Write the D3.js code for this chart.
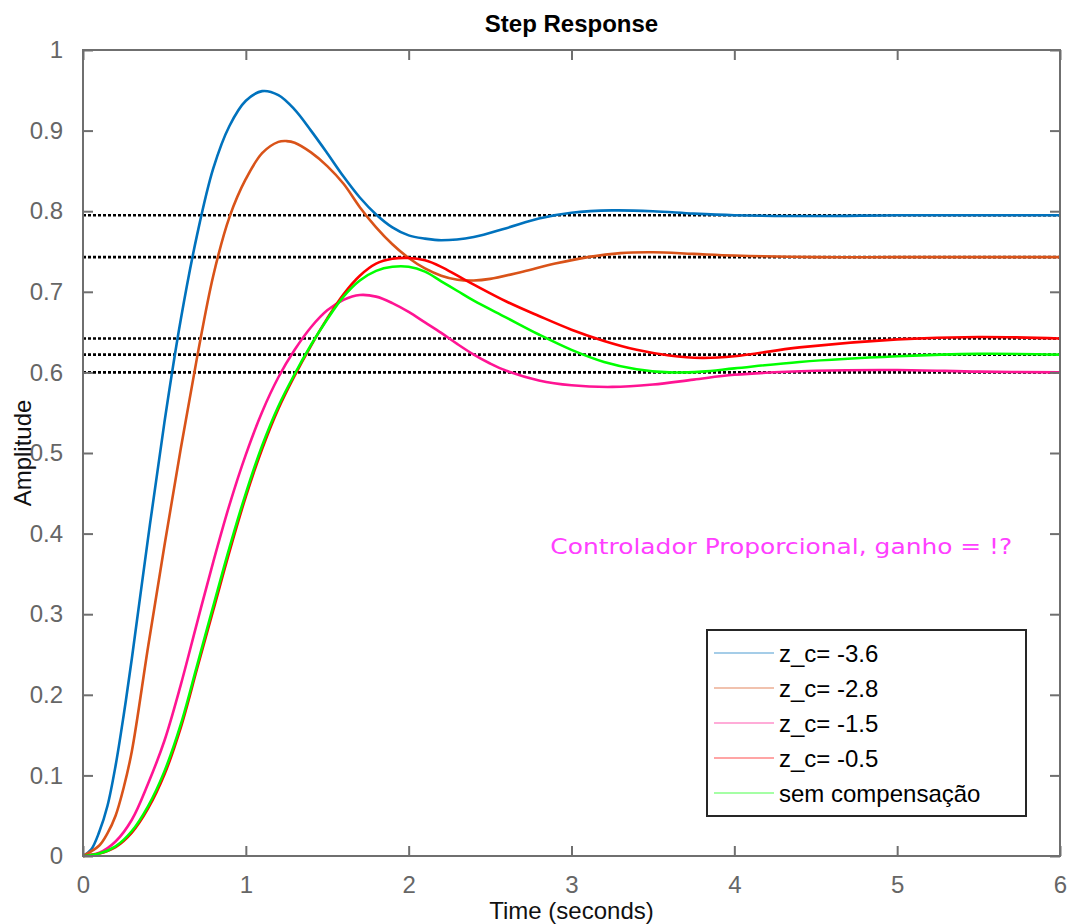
<!DOCTYPE html>
<html>
<head>
<meta charset="utf-8">
<script src="https://cdn.jsdelivr.net/npm/d3@7"></script>
<style>
  body { margin: 0; background: #fff; }
  svg { font-family: "Liberation Sans", Arial, sans-serif; }
</style>
</head>
<body>
<div id="plot"></div>
<script>
// values
const tBlue   = [0, 0.05, 0.1, 0.15, 0.2, 0.25, 0.3, 0.4, 0.5, 0.6, 0.7, 0.8, 0.9, 1.0, 1.1, 1.2, 1.3, 1.4, 1.5, 1.6, 1.7, 1.8, 1.9, 2.0, 2.1, 2.2, 2.4, 2.6, 2.8, 3.0, 3.25, 3.5, 3.75, 4, 4.5, 5, 5.5, 6];
const zc36    = [0, 0.008, 0.03, 0.062, 0.112, 0.175, 0.245, 0.395, 0.538, 0.665, 0.77, 0.853, 0.906, 0.937, 0.949, 0.944, 0.926, 0.90, 0.872, 0.843, 0.817, 0.796, 0.78, 0.77, 0.766, 0.764, 0.768, 0.779, 0.791, 0.798, 0.801, 0.800, 0.797, 0.795, 0.794, 0.795, 0.795, 0.795];

const tOrange = [0, 0.1, 0.15, 0.2, 0.25, 0.3, 0.4, 0.5, 0.6, 0.7, 0.8, 0.9, 1.0, 1.1, 1.2, 1.25, 1.3, 1.4, 1.5, 1.6, 1.7, 1.8, 1.9, 2.0, 2.1, 2.2, 2.3, 2.4, 2.5, 2.7, 2.9, 3.1, 3.3, 3.5, 3.75, 4, 4.5, 5, 6];
const zc28    = [0, 0.013, 0.028, 0.05, 0.085, 0.13, 0.26, 0.385, 0.505, 0.618, 0.72, 0.793, 0.84, 0.872, 0.886, 0.887, 0.885, 0.873, 0.856, 0.834, 0.805, 0.78, 0.759, 0.742, 0.729, 0.72, 0.715, 0.714, 0.716, 0.725, 0.735, 0.743, 0.748, 0.749, 0.747, 0.745, 0.743, 0.743, 0.743];

const tMag    = [0, 0.1, 0.2, 0.3, 0.4, 0.5, 0.6, 0.7, 0.8, 0.9, 1.0, 1.1, 1.2, 1.3, 1.4, 1.5, 1.6, 1.7, 1.8, 1.9, 2.0, 2.1, 2.2, 2.3, 2.4, 2.5, 2.6, 2.8, 3.0, 3.25, 3.5, 3.75, 4.0, 4.5, 5.0, 5.5, 6.0];
const zc15    = [0, 0.004, 0.018, 0.045, 0.09, 0.143, 0.212, 0.289, 0.365, 0.436, 0.498, 0.551, 0.594, 0.628, 0.656, 0.677, 0.69, 0.696, 0.694, 0.686, 0.675, 0.662, 0.649, 0.635, 0.622, 0.611, 0.602, 0.59, 0.584, 0.582, 0.585, 0.591, 0.597, 0.602, 0.603, 0.601, 0.600];

const tLow    = [0, 0.1, 0.2, 0.3, 0.4, 0.5, 0.6, 0.7, 0.8, 0.9, 1.0, 1.1, 1.2, 1.3, 1.4, 1.5, 1.6, 1.7, 1.8, 1.9, 2.0, 2.1, 2.2, 2.3, 2.4, 2.6, 2.8, 3.0, 3.2, 3.4, 3.6, 3.8, 4.0, 4.4, 5.0, 5.5, 6.0];
const zc05    = [0, 0.003, 0.011, 0.029, 0.059, 0.101, 0.159, 0.232, 0.305, 0.378, 0.446, 0.505, 0.555, 0.596, 0.633, 0.667, 0.697, 0.72, 0.735, 0.741, 0.742, 0.739, 0.731, 0.72, 0.709, 0.688, 0.67, 0.653, 0.639, 0.628, 0.621, 0.618, 0.62, 0.631, 0.641, 0.644, 0.642];
const semComp = [0, 0.003, 0.012, 0.031, 0.062, 0.105, 0.163, 0.236, 0.31, 0.383, 0.45, 0.509, 0.558, 0.598, 0.634, 0.666, 0.694, 0.714, 0.726, 0.731, 0.731, 0.725, 0.713, 0.701, 0.689, 0.668, 0.647, 0.628, 0.613, 0.604, 0.600, 0.601, 0.605, 0.613, 0.620, 0.623, 0.622];

const finalValues = [0.795, 0.743, 0.642, 0.622, 0.600];

const seriesNames = ["z_c= -3.6", "z_c= -2.8", "z_c= -1.5", "z_c= -0.5", "sem compensação"];
const seriesColors = ["#0072BD", "#D95319", "#FF1493", "#FF0000", "#00FF00"];
const series = [
  { t: tBlue, y: zc36 },
  { t: tOrange, y: zc28 },
  { t: tMag, y: zc15 },
  { t: tLow, y: zc05 },
  { t: tLow, y: semComp }
];

const xTicks = [0, 1, 2, 3, 4, 5, 6];
const yTicks = [0, 0.1, 0.2, 0.3, 0.4, 0.5, 0.6, 0.7, 0.8, 0.9, 1];

const W = 1074, H = 924;
const margin = { top: 50, right: 14, bottom: 68, left: 83 };
const width = W - margin.left - margin.right;
const height = H - margin.top - margin.bottom;

const svg = d3.select('#plot')
  .append('svg')
  .attr('width', W)
  .attr('height', H);

const g = svg.append('g')
  .attr('transform', `translate(${margin.left},${margin.top})`);

const x = d3.scaleLinear().domain([0, 6]).range([0, width]);
const y = d3.scaleLinear().domain([0, 1]).range([height, 0]);

const axisColor = '#6f6f6f';

// dotted steady-state lines
g.selectAll('.ss')
  .data(finalValues)
  .enter()
  .append('line')
  .attr('x1', 0)
  .attr('x2', width)
  .attr('y1', (d) => y(d))
  .attr('y2', (d) => y(d))
  .attr('stroke', '#000')
  .attr('stroke-width', 2.6)
  .attr('stroke-dasharray', '3,2');

// curves
const line = d3.line().curve(d3.curveCatmullRom.alpha(0.5));
g.selectAll('.curve')
  .data(series)
  .enter()
  .append('path')
  .attr('fill', 'none')
  .attr('stroke', (d, i) => seriesColors[i])
  .attr('stroke-width', 2.6)
  .attr('d', (d) => line(d.t.map((t, i) => [x(t), y(d.y[i])])));

// axes: ticks inside on all four sides
function styleAxis(sel) {
  sel.select('.domain').remove();
  sel.selectAll('.tick line').attr('stroke', axisColor).attr('stroke-width', 2);
  sel.selectAll('.tick text')
    .attr('fill', '#666')
    .style('font-size', '24px')
    .style('font-family', '"Liberation Sans", Arial, sans-serif');
}

g.append('g')
  .attr('transform', `translate(0,${height})`)
  .call(d3.axisBottom(x).tickValues(xTicks).tickFormat(d3.format('d')).tickSizeInner(-10).tickPadding(20))
  .call(styleAxis);

g.append('g')
  .call(d3.axisLeft(y).tickValues(yTicks).tickFormat((d) => d3.format('')(+d.toFixed(1))).tickSizeInner(-10).tickPadding(20))
  .call(styleAxis);

g.append('g')
  .call(d3.axisTop(x).tickValues(xTicks).tickFormat('').tickSizeInner(-10))
  .call(styleAxis);

g.append('g')
  .attr('transform', `translate(${width},0)`)
  .call(d3.axisRight(y).tickValues(yTicks).tickFormat('').tickSizeInner(-10))
  .call(styleAxis);

// box
g.append('rect')
  .attr('width', width)
  .attr('height', height)
  .attr('fill', 'none')
  .attr('stroke', axisColor)
  .attr('stroke-width', 2);

// title and axis labels
svg.append('text')
  .attr('x', margin.left + width / 2)
  .attr('y', 32)
  .attr('text-anchor', 'middle')
  .style('font-size', '24px')
  .style('font-weight', 'bold')
  .text('Step Response');

svg.append('text')
  .attr('x', margin.left + width / 2)
  .attr('y', 919)
  .attr('text-anchor', 'middle')
  .attr('fill', '#111')
  .style('font-size', '24px')
  .text('Time (seconds)');

svg.append('text')
  .attr('transform', `translate(31,${margin.top + height / 2}) rotate(-90)`)
  .attr('text-anchor', 'middle')
  .attr('fill', '#111')
  .style('font-size', '24px')
  .text('Amplitude');

// annotation
g.append('text')
  .attr('x', x(2.87))
  .attr('y', y(0.375))
  .attr('fill', '#FF40FF')
  .attr('textLength', 462)
  .attr('lengthAdjust', 'spacingAndGlyphs')
  .style('font-size', '22px')
  .style('font-family', '"Comic Sans MS", "DejaVu Sans", sans-serif')
  .text('Controlador Proporcional, ganho = !?');

// legend
const legend = svg.append('g').attr('transform', 'translate(707,630)');
legend.append('rect')
  .attr('width', 319)
  .attr('height', 186)
  .attr('fill', '#fff')
  .attr('stroke', '#262626')
  .attr('stroke-width', 2);

const items = legend.selectAll('.item')
  .data(seriesNames)
  .enter()
  .append('g')
  .attr('transform', (d, i) => `translate(0,${23 + i * 35})`);

items.append('line')
  .attr('x1', 7)
  .attr('x2', 67)
  .attr('stroke', (d, i) => seriesColors[i])
  .attr('stroke-opacity', 0.7)
  .attr('stroke-width', 1.2);

items.append('text')
  .attr('x', 72)
  .attr('y', 9)
  .attr('fill', '#000')
  .style('font-size', '24px')
  .text((d) => d);
</script>
</body>
</html>
